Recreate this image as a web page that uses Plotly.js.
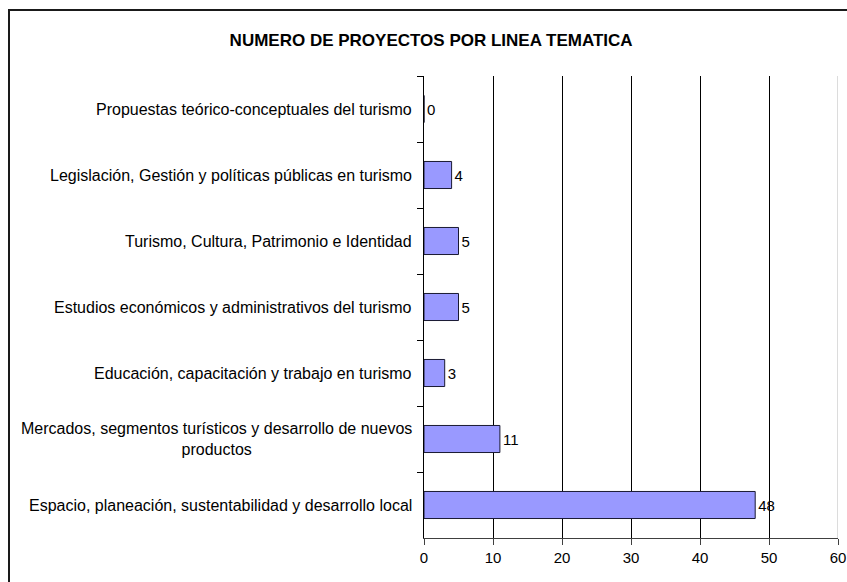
<!DOCTYPE html>
<html>
<head>
<meta charset="utf-8">
<script src="https://cdn.plot.ly/plotly-3.0.1.min.js"></script>
<style>html,body{margin:0;padding:0;background:#fff;}#chart{width:847px;height:582px;}</style>
</head>
<body>
<div id="chart"></div>
<script>
// Categories listed from top to bottom
const categories = [
  "Propuestas teórico-conceptuales del turismo",
  "Legislación, Gestión y políticas públicas en turismo",
  "Turismo, Cultura, Patrimonio e Identidad",
  "Estudios económicos y administrativos del turismo",
  "Educación, capacitación y trabajo en turismo",
  "Mercados, segmentos turísticos y desarrollo de nuevos<br>productos",
  "Espacio, planeación, sustentabilidad y desarrollo local"
];
const projects = [0, 4, 5, 5, 3, 11, 48];
const xTicks = [0, 10, 20, 30, 40, 50, 60];
const chartTitle = "NUMERO DE PROYECTOS POR LINEA TEMATICA";

const FONT = "Arial, 'Liberation Sans', sans-serif";

const trace = {
  type: "bar",
  orientation: "h",
  y: categories,
  x: projects,
  marker: {color: "#9999FF", line: {color: "#1a1a33", width: 1}},
  text: projects.map(String),
  textposition: "outside",
  cliponaxis: false,
  textfont: {family: FONT, size: 15, color: "#000"},
  hoverinfo: "none"
};

const annotations = categories.map(c => ({
  xref: "paper", yref: "y",
  x: 0, y: c,
  xanchor: "right", yanchor: "middle",
  xshift: -10,
  text: c,
  align: "center",
  showarrow: false,
  font: {family: FONT, size: 16, color: "#000"}
}));

const xMax = xTicks[xTicks.length - 1];

const layout = {
  width: 847, height: 582,
  margin: {l: 424, r: 9, t: 76, b: 44},
  paper_bgcolor: "#fff",
  plot_bgcolor: "#fff",
  showlegend: false,
  bargap: 0.59,
  title: {
    text: "<b>" + chartTitle + "</b>",
    font: {family: FONT, size: 17, color: "#000"},
    x: 0.509, xref: "container", xanchor: "center",
    y: 0.931, yref: "container", yanchor: "middle"
  },
  xaxis: {
    range: [0, xMax],
    tickvals: xTicks,
    ticktext: xTicks.map(String),
    showgrid: true, gridcolor: "#000", gridwidth: 1,
    zeroline: false,
    showline: true, linecolor: "#404040", linewidth: 1,
    ticks: "outside", ticklen: 6, tickcolor: "#404040",
    tickfont: {family: FONT, size: 15, color: "#000"},
    fixedrange: true
  },
  yaxis: {
    type: "category",
    autorange: "reversed",
    showticklabels: false,
    showgrid: false, zeroline: false,
    showline: true, linecolor: "#000", linewidth: 1,
    ticks: "outside", ticklen: 6, tickcolor: "#000",
    tickson: "boundaries",
    fixedrange: true
  },
  annotations: annotations,
  shapes: [{
    type: "rect", xref: "paper", yref: "paper",
    x0: (9 - 424) / 414, x1: 1.5,
    y0: -0.5, y1: 1 + 66 / 462,
    line: {color: "#1a1a1a", width: 2},
    fillcolor: "rgba(0,0,0,0)",
    layer: "below"
  }, {
    type: "line", xref: "x", yref: "paper",
    x0: xMax, x1: xMax, y0: 0, y1: 1,
    line: {color: "#d0d0d0", width: 1.5},
    layer: "above"
  }]
};

Plotly.newPlot("chart", [trace], layout, {displayModeBar: false, staticPlot: true});
</script>
</body>
</html>
